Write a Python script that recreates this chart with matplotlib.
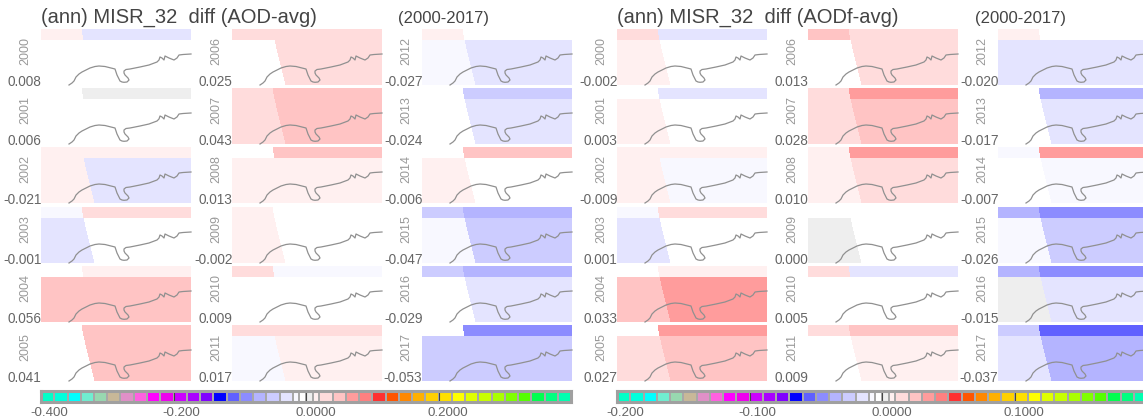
import matplotlib
matplotlib.use('Agg')
import matplotlib.pyplot as plt
from matplotlib.colors import ListedColormap, BoundaryNorm
import numpy as np

plt.rcParams['font.family'] = ['Liberation Sans', 'DejaVu Sans']

W, H = 1143, 419

years = list(range(2000, 2018))
labels_aod = ['0.008', '0.006', '-0.021', '-0.001', '0.056', '0.041',
              '0.025', '0.043', '0.013', '-0.002', '0.009', '0.017',
              '-0.027', '-0.024', '-0.006', '-0.047', '-0.029', '-0.053']
labels_aodf = ['-0.002', '0.003', '-0.009', '0.001', '0.033', '0.027',
               '0.013', '0.028', '0.010', '0.000', '0.005', '0.009',
               '-0.020', '-0.017', '-0.007', '-0.026', '-0.015', '-0.037']

# cell values per year: top left, top right, bottom left, bottom right
cells_aod = [[.015, -.03, -.005, -.005],
             [-.005, .005, -.005, -.005],
             [.015, .015, .015, -.03],
             [-.015, .03, -.03, -.005],
             [-.005, .015, .05, .05],
             [-.005, .05, -.005, .05],
             [.03, .03, -.005, .03],
             [.03, .05, .03, .05],
             [-.005, .05, .015, .015],
             [.015, -.005, .015, -.005],
             [.03, -.015, -.005, -.005],
             [.03, .03, -.015, .015],
             [.015, -.005, -.015, -.03],
             [-.005, -.05, -.005, -.03],
             [-.005, .05, .015, -.005],
             [-.05, -.07, -.015, -.05],
             [-.05, -.07, -.005, -.03],
             [-.005, -.09, -.05, -.05]]
cells_aodf = [[.015, -.015, .0075, -.0025],
              [-.0025, -.015, .0075, -.0025],
              [.0075, .0075, .0075, -.0075],
              [-.0075, .015, -.015, -.0025],
              [-.0025, .0075, .025, .035],
              [-.0025, .035, .015, .025],
              [.025, .015, -.0025, .015],
              [.015, .035, .015, .025],
              [.0075, .035, .0075, .015],
              [-.0025, -.0025, .0025, -.0025],
              [.015, -.015, -.0025, -.0025],
              [.015, .025, -.0025, .0075],
              [.0075, -.0025, -.015, -.015],
              [-.0025, -.035, -.0025, -.015],
              [-.0075, .035, -.0025, -.0075],
              [-.035, -.045, -.0075, -.025],
              [-.035, -.045, .0025, -.015],
              [-.025, -.055, -.015, -.035]]

# coastline, same in all panels
coast_x = [28, 31, 33, 35, 38, 41, 45, 49, 54, 58, 64, 70, 74, 75, 76, 79, 81,
           83, 86, 88, 87, 84, 83, 83, 85, 89, 94, 99, 108, 116, 118, 119, 121,
           123, 124, 128, 133, 136, 138, 142, 150]
coast_y = [0, 2, 4, 8, 11, 13, 15, 17, 18.5, 19, 18.5, 17, 16, 13, 10, 4, 3, 2.7,
           3, 5, 7, 10, 12, 14, 15.5, 16, 17, 18, 20, 23, 25, 28, 27, 25, 29, 27,
           25, 27, 30, 30.5, 31]

# colour bar bins
bar_colors = ['#00ffc8', '#00ffdc', '#00ffff', '#70eed0', '#98d8b0', '#c8b898',
              '#e090c8', '#ff60e0', '#ff00ff', '#ee00ee', '#cc00ff', '#aa00ff',
              '#8000ff', '#0000ff', '#6060ff', '#8c8cff', '#b4b4ff', '#ccccff',
              '#e4e4ff', '#f8f8ff', '#ffffff', '#eeeeee', '#fff0f0', '#ffdcdc',
              '#ffc4c4', '#ff9c9c', '#ff8080', '#ff3030', '#ff5500', '#ff8800',
              '#ffb000', '#ffd000', '#ffe000', '#ffff00', '#e0ff00', '#c8ff00',
              '#aaff00', '#80ff00', '#55ff00', '#00ff50', '#00ff80', '#00ffb0']
levels = np.array([-40, -38, -36, -34, -32, -30, -28, -26, -24, -22, -20, -18,
                   -16, -14, -12, -10, -8, -6, -4, -2, -1, 0, 1, 2, 4, 6, 8,
                   10, 12, 14, 16, 18, 20, 22, 24, 26, 28, 30, 32, 34, 36, 38,
                   40]) / 100.
cmap = ListedColormap(bar_colors)

# grid edge between the two columns, top to bottom
edge_x = [41, 42.7, 53.7]
edge_y = [56, 45, 0]

fig = plt.figure(figsize=(W / 100., H / 100.), dpi=100)


def add_ax(x, y, w, h):
    return fig.add_axes([x / W, 1 - (y + h) / H, w / W, h / H])


def put(x, y, s, **kw):
    fig.text(x / W, 1 - y / H, s, **kw)


def block(cols, labels, cells, scale):
    norm = BoundaryNorm(levels * scale, cmap.N)
    tops = [29, 88, 147, 207, 266, 325]
    for i, year in enumerate(years):
        x0 = cols[i // 6]
        y0 = tops[i % 6]
        ax = add_ax(x0, y0, 150, 56)
        c = cells[i]
        X = np.array([[0, e, 150] for e in edge_x])
        Y = np.array([[e, e, e] for e in edge_y])
        Z = np.array([[c[0], c[1]], [c[2], c[3]]])
        ax.pcolormesh(X, Y, Z, cmap=cmap, norm=norm, linewidth=0, rasterized=True)
        ax.plot(coast_x, coast_y, color='#909090', lw=0.9, clip_on=False)
        ax.set_xlim(0, 150)
        ax.set_ylim(0, 56)
        ax.axis('off')
        put(x0 - 16, y0 + 22, str(year), rotation=90, ha='center', va='center',
            fontsize=9, color='#999999')
        put(x0 + 0.5, y0 + 57, labels[i], ha='right', va='baseline',
            fontsize=9.8, color='#666666')


def colorbar(x0, ticks, ticklabels, scale):
    ax = add_ax(x0, 391, 530, 11)
    lv = levels * scale
    mids = (lv[:-1] + lv[1:]) / 2.
    ax.pcolormesh(lv, [0, 1], mids[np.newaxis, :], cmap=cmap,
                  norm=BoundaryNorm(lv, cmap.N), edgecolors='#a8a8a8', linewidth=1.2)
    ax.set_xlim(lv[0], lv[-1])
    ax.set_ylim(0, 1)
    ax.set_yticks([])
    ax.set_xticks(ticks[1:])
    ax.set_xticklabels([])
    ax.tick_params(axis='x', direction='in', length=8, width=0.8, color='#444444')
    for s in ax.spines.values():
        s.set_color('#a0a0a0')
        s.set_linewidth(2.2)
    for t, lab in zip(ticks, ticklabels):
        ax.annotate(lab, (t, 0), xytext=(-11 * 0.72, -3.5), textcoords='offset points',
                    ha='left', va='top', fontsize=9.6, color='#666666',
                    annotation_clip=False)


block([41, 232, 422], labels_aod, cells_aod, 1.0)
block([617, 808, 998], labels_aodf, cells_aodf, 0.5)

colorbar(41, [-0.4, -0.2, 0.0, 0.2], ['-0.400', '-0.200', '0.0000', '0.2000'], 1.0)
colorbar(617, [-0.2, -0.1, 0.0, 0.1], ['-0.200', '-0.100', '0.0000', '0.1000'], 0.5)

put(41, 22.5, '(ann) MISR_32  diff (AOD-avg)', fontsize=14.5, color='#444444')
put(617, 22.5, '(ann) MISR_32  diff (AODf-avg)', fontsize=14.5, color='#444444')
put(398, 23, '(2000-2017)', fontsize=12, color='#444444')
put(975, 23, '(2000-2017)', fontsize=12, color='#444444')

plt.savefig('out.png', dpi=100)
